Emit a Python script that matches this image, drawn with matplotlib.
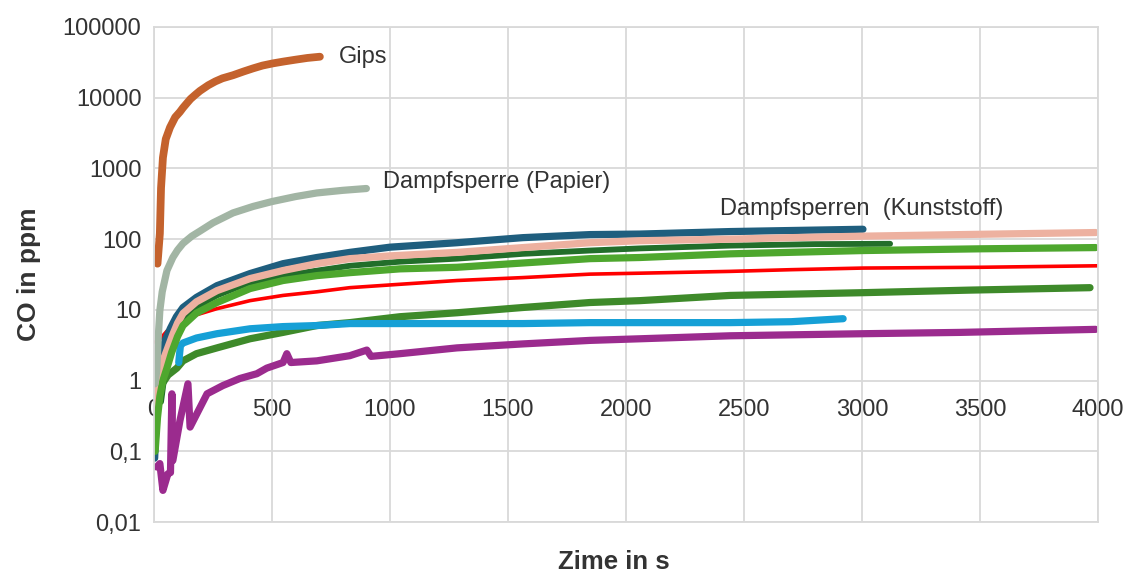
import numpy as np
import matplotlib.pyplot as plt
from matplotlib.ticker import FixedLocator, FixedFormatter

plt.rcParams['font.family'] = ['Liberation Sans', 'DejaVu Sans']

# CO concentration over time, one curve per material
gips_t = [15, 18, 25, 30, 38, 50, 68, 90, 110, 123, 140, 155, 175, 195, 230, 260, 290, 335, 380,
          420, 460, 504, 550, 600, 650, 703]
gips_co = [45, 60, 120, 530, 1420, 2600, 3800, 5300, 6300, 7200, 8400, 9600, 11000, 12500, 15000, 17000, 18800,
           20800, 23500, 26000, 28500, 30600, 32500, 34500, 36500, 38000]

papier_t = [4, 8, 12, 18, 25, 35, 55, 80, 100, 123, 160, 195, 250, 335, 420, 500, 600, 690, 800, 900]
papier_co = [0.9, 1.1, 1.4, 4, 9.8, 18, 36, 55, 70, 87, 110, 130, 170, 235, 290, 340, 400, 450, 490, 520]

# Kunststoff vapour barriers
teal_t = [3, 6, 10, 15, 20, 30, 47, 70, 95, 123, 180, 267, 407, 547, 690, 830, 1000, 1284, 1563, 1847,
          2059, 2441, 3004]
teal_co = [0.08, 0.15, 0.3, 0.6, 1.2, 2.2, 3.7, 5.5, 8, 10.8, 15, 22, 32.6, 45, 55, 65, 77, 89, 105, 116,
           118, 128, 138]

rosa_t = [8, 14, 20, 35, 55, 80, 100, 123, 180, 267, 407, 547, 690, 830, 1000, 1284, 1563, 1847, 2059,
          2441, 2700, 2991, 3415, 3990]
rosa_co = [0.4, 0.7, 1.0, 1.8, 2.7, 4.5, 6.5, 8.9, 13, 18.7, 27.7, 36, 45, 53, 58, 65, 76, 89, 95,
           100, 105, 110, 116, 124]

dgruen_t = [30, 45, 60, 90, 123, 180, 267, 400, 547, 830, 1042, 1284, 1563, 1847, 2059, 2441, 2800, 3119]
dgruen_co = [0.5, 1.2, 2.0, 4.5, 7.5, 11, 16, 24, 30.5, 42, 48, 53, 62, 69, 74, 81, 85, 86]

gruen_t = [5, 15, 25, 38, 55, 75, 100, 123, 180, 267, 407, 547, 690, 830, 1042, 1284, 1563, 1847, 2059,
           2441, 3004, 3500, 3990]
gruen_co = [0.1, 0.3, 0.6, 1.0, 1.5, 2.5, 4.2, 6, 9, 12.7, 20, 26, 30.5, 33.6, 38, 40, 46, 53, 55,
            62, 69, 73, 76]

rot_t = [4, 20, 55, 90, 123, 180, 267, 407, 547, 690, 830, 1042, 1284, 1563, 1847, 2059, 2441, 2700,
         3004, 3500, 4000]
rot_co = [3.5, 3.7, 5, 6, 7, 8.5, 10.4, 13.5, 16, 18, 20.6, 23, 26, 28.6, 32, 33, 35, 37, 39, 40, 42]

mgruen_t = [35, 60, 97, 123, 180, 267, 407, 547, 690, 830, 1042, 1284, 1563, 1847, 2059, 2441, 3004,
            3450, 3966]
mgruen_co = [0.9, 1.2, 1.5, 1.9, 2.4, 2.9, 3.9, 4.8, 6, 6.6, 8, 9.1, 10.8, 12.7, 13.5, 16, 17.5, 19, 20.6]

blau_t = [105, 112, 123, 180, 267, 407, 547, 690, 830, 1042, 1284, 1563, 1847, 2059, 2441, 2700, 2920]
blau_co = [1.8, 3.1, 3.4, 4.0, 4.6, 5.4, 5.8, 6, 6.4, 6.4, 6.4, 6.4, 6.6, 6.6, 6.6, 6.8, 7.5]

lila_t = [12, 25, 38, 59, 70, 76, 80, 110, 144, 153, 225, 292, 364, 436, 478, 547, 563, 580,
          690, 830, 902, 920, 1042, 1284, 1563, 1847, 2059, 2441, 3004, 3415, 3990]
lila_co = [0.06, 0.067, 0.028, 0.048, 0.05, 0.65, 0.074, 0.27, 0.9, 0.22, 0.65, 0.85, 1.07, 1.25, 1.5, 1.8, 2.4, 1.8,
           1.9, 2.25, 2.7, 2.2, 2.4, 2.9, 3.3, 3.7, 3.9, 4.3, 4.6, 4.8, 5.3]

y_ticks = [0.01, 0.1, 1, 10, 100, 1000, 10000, 100000]
y_labels = ["0,01", "0,1", "1", "10", "100", "1000", "10000", "100000"]
x_ticks = [0, 500, 1000, 1500, 2000, 2500, 3000, 3500, 4000]

txt = '#333333'
grid = '#D9D9D9'

fig = plt.figure(figsize=(11.32, 5.72), dpi=100)
ax = fig.add_axes([0.136, 0.0874, 0.834, 0.8654])

kw = dict(solid_capstyle='round', solid_joinstyle='round')
ax.plot(rot_t, rot_co, color='#FF0000', lw=2.6, **kw)
ax.plot(teal_t, teal_co, color='#1F5E7E', lw=5.2, **kw)
ax.plot(lila_t, lila_co, color='#9B2B8E', lw=5.2, **kw)
ax.plot(mgruen_t, mgruen_co, color='#3E8A2A', lw=5.2, **kw)
ax.plot(blau_t, blau_co, color='#16A0D6', lw=5.2, **kw)
ax.plot(dgruen_t, dgruen_co, color='#226E2A', lw=4.2, **kw)
ax.plot(rosa_t, rosa_co, color='#EDB1A0', lw=5.2, **kw)
ax.plot(gruen_t, gruen_co, color='#4EA72E', lw=5.2, **kw)
ax.plot(papier_t, papier_co, color='#A2B5A4', lw=5.2, **kw)
ax.plot(gips_t, gips_co, color='#C4622D', lw=5.6, **kw)

ax.set_yscale('log')
ax.set_xlim(0, 4000)
ax.set_ylim(0.01, 100000)
ax.yaxis.set_major_locator(FixedLocator(y_ticks))
ax.yaxis.set_major_formatter(FixedFormatter(y_labels))
ax.yaxis.set_minor_locator(FixedLocator([]))
ax.set_xticks(x_ticks)
ax.tick_params(axis='x', length=0, labelbottom=False)
ax.tick_params(axis='y', length=0, pad=9, labelsize=17, labelcolor=txt)
ax.grid(True, color=grid, lw=1.3)
ax.set_axisbelow(True)
for s in ax.spines.values():
    s.set_color(grid)
    s.set_linewidth(1.3)

# x tick labels sit on the y=1 line
frac = (np.log10(1) - np.log10(0.01)) / (np.log10(100000) - np.log10(0.01))
sec = ax.secondary_xaxis(frac)
sec.set_xticks(x_ticks)
sec.set_xticklabels([str(v) for v in x_ticks])
sec.tick_params(length=0, pad=13, labelsize=17, labelcolor=txt)
sec.spines['bottom'].set_visible(False)

ax.set_ylabel("CO in ppm", fontsize=19, fontweight='bold', color=txt)
ax.yaxis.set_label_coords(-0.12, 0.5)
ax.set_xlabel("Zime in s", fontsize=18.5, fontweight='bold', color=txt, va='center')
ax.xaxis.set_label_coords(0.487, -0.08)

ax.annotate("Gips", xy=(gips_t[-1], gips_co[-1]), xytext=(14, 0), textcoords='offset points',
            fontsize=17, color=txt, va='center')
ax.annotate("Dampfsperre (Papier)", xy=(papier_t[-1], papier_co[-1]), xytext=(12, 5),
            textcoords='offset points', fontsize=17, color=txt, va='center')
ax.text(2400, 270, "Dampfsperren  (Kunststoff)", fontsize=17, color=txt, va='center')

fig.savefig("out.png", dpi=100)
